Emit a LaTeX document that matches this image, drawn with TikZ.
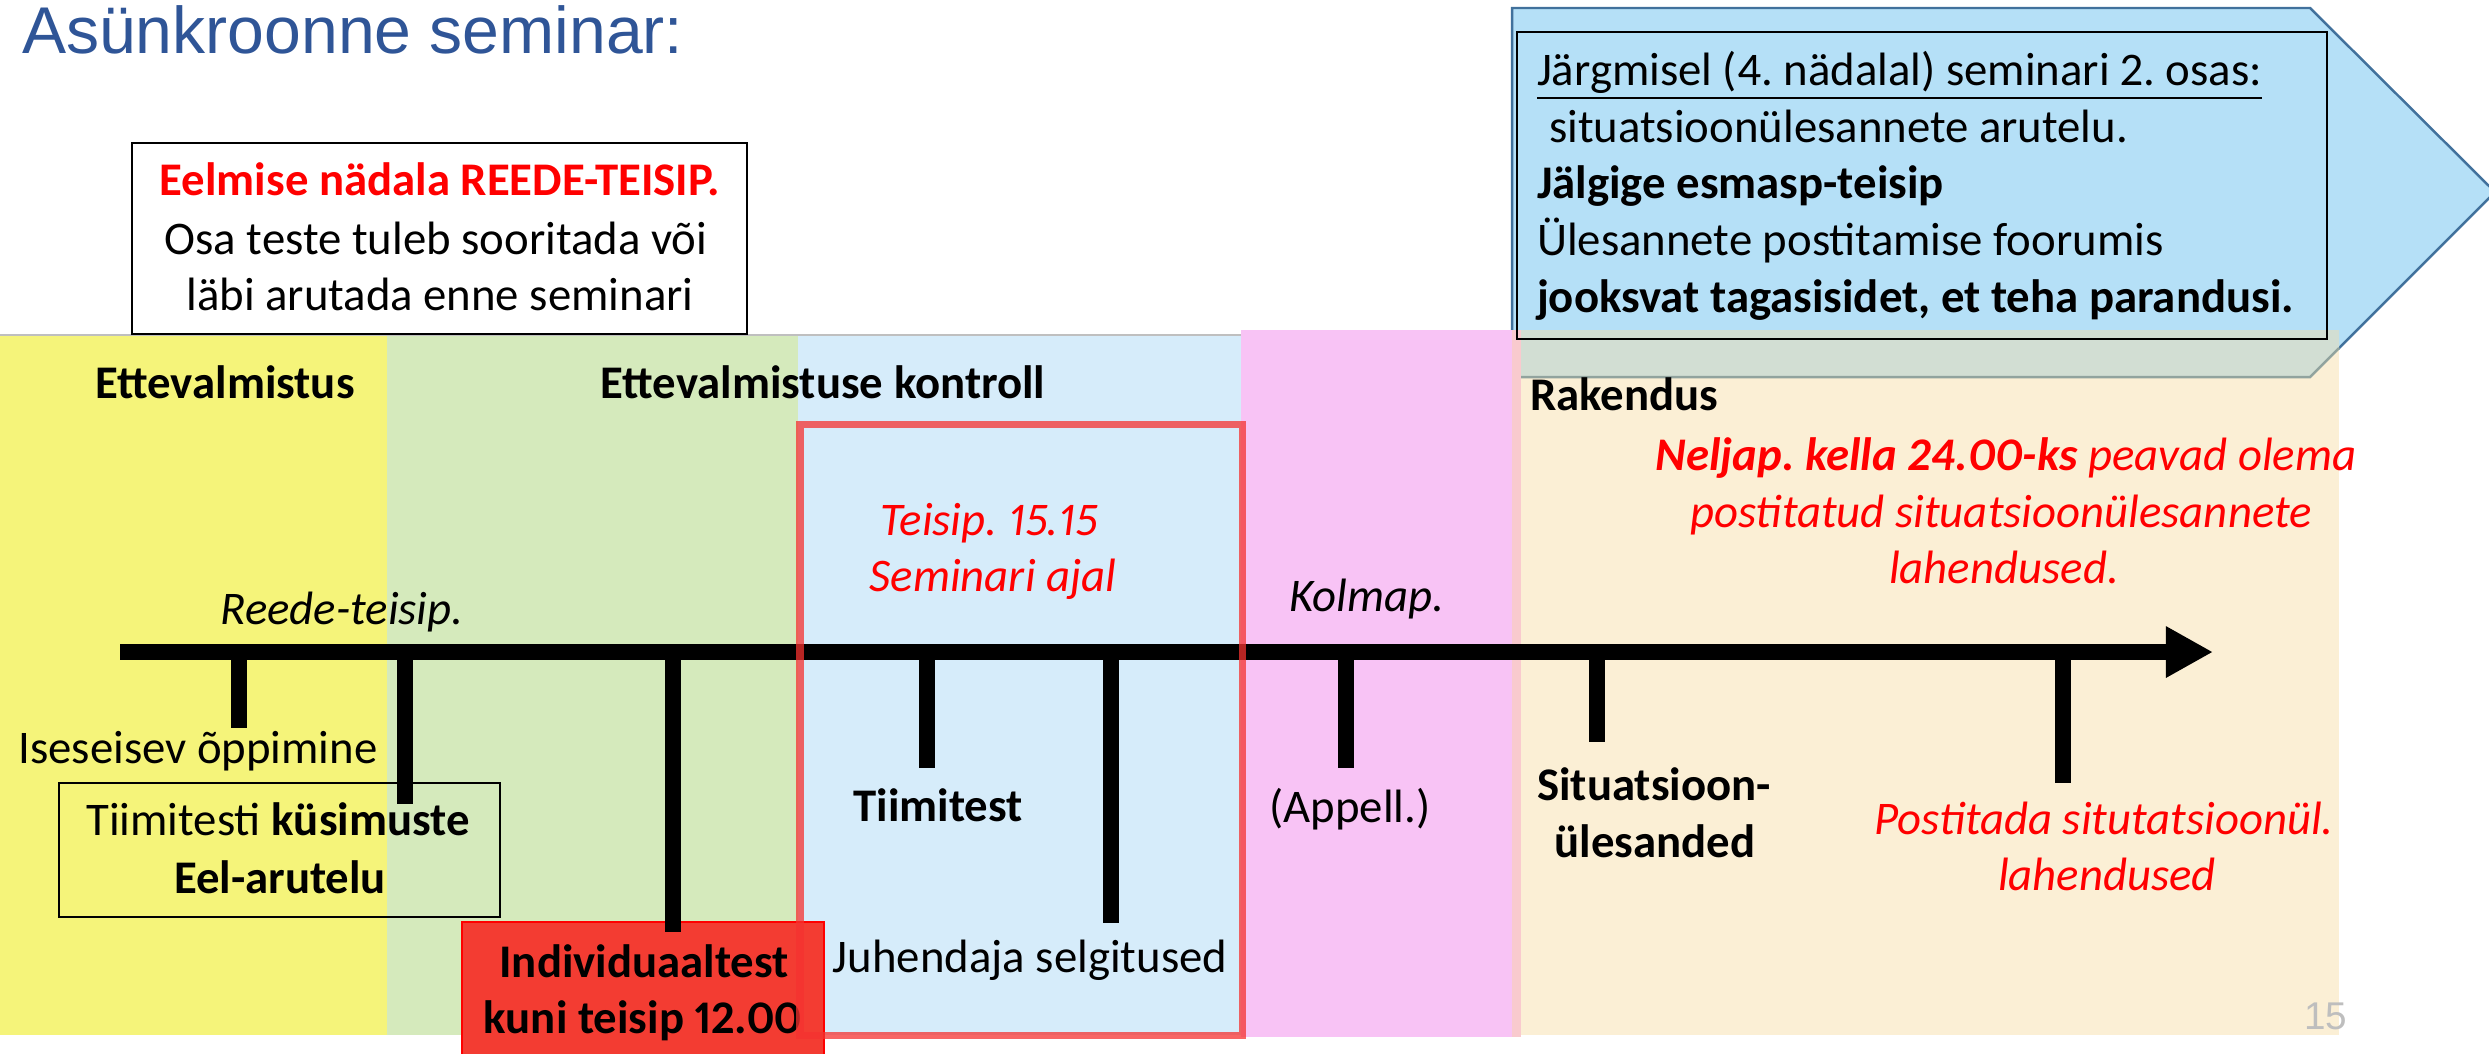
\documentclass[tikz,border=0pt]{standalone}
\usepackage{fontspec}
\setmainfont{Carlito}[Numbers=Proportional]
\newfontfamily\titlefont{Liberation Sans}
\usetikzlibrary{arrows.meta}
\definecolor{cyel}{RGB}{245,244,122}
\definecolor{cgreen}{RGB}{213,234,188}
\definecolor{cblue}{RGB}{214,236,250}
\definecolor{cpink}{RGB}{248,195,245}
\definecolor{cpinkstrip}{RGB}{249,202,206}
\definecolor{cbeige}{RGB}{251,239,213}
\definecolor{carrow}{RGB}{181,224,247}
\definecolor{carrowline}{RGB}{65,113,156}
\definecolor{coverlap}{RGB}{210,222,211}
\definecolor{coverline}{RGB}{145,163,158}
\definecolor{cframe}{RGB}{245,50,48}
\definecolor{cindiv}{RGB}{243,60,50}
\definecolor{ctitle}{RGB}{47,85,151}
\definecolor{cred}{RGB}{255,0,0}
\definecolor{cpage}{RGB}{190,190,190}
\frenchspacing
\tikzset{
  txt/.style={inner sep=0pt, outer sep=0pt, font=\fontsize{13.3pt}{16pt}\selectfont, anchor=base},
  txtl/.style={txt, anchor=base west},
  boldtxt/.style={font=\fontsize{13.3pt}{16pt}\selectfont\bfseries},
  boxline/.style={draw=black, line width=0.8pt},
  tickline/.style={line width=4.3pt},
  redit/.style={text=cred, font=\fontsize{13.3pt}{16pt}\selectfont\itshape},
}
\begin{document}
\begin{tikzpicture}[x=0.01cm,y=-0.01cm]
\useasboundingbox (0,0) rectangle (2489,1053);
% blue arrow
\path[fill=carrow, draw=carrowline, line width=0.7pt] (1512,8) -- (2310,8) -- (2495,192) -- (2310,377) -- (1512,377) -- cycle;
% bands
\fill[cyel] (0,335) rectangle (387,1035);
\fill[cgreen] (387,335) rectangle (798,1035);
\fill[cblue] (798,335) rectangle (1241,1035);
\draw[gray!50, line width=0.4pt] (0,335) -- (1241,335);
\fill[cpink] (1241,330) rectangle (1512,1037);
\fill[cpinkstrip] (1512,330) rectangle (1521,1037);
\fill[cbeige] (1521,330) rectangle (2339,1035);
% overlap of arrow and beige band
\fill[coverlap] (1521,330) -- (2339,330) -- (2339,348) -- (2310,377) -- (1521,377) -- cycle;
\draw[coverline, line width=0.7pt] (1521,377) -- (2310,377) -- (2339,348);
% title
\node[txtl, font=\titlefont\fontsize{18.8pt}{22pt}\selectfont, text=ctitle] (ttl) at (22,53) {Asünkroonne seminar:};
% top-left box
\draw[boxline, fill=white] (132,143) rectangle (747,334);
\node[txt, boldtxt, text=cred] (ee1) at (440,195) {Eelmise nädala REEDE-TEISIP.};
\node[txt] (ee2) at (436,254) {Osa teste tuleb sooritada või};
\node[txt] (ee3) at (440,310) {läbi arutada enne seminari};
% arrow box
\draw[boxline] (1517,32) rectangle (2327,339);
\node[txtl] (j1) at (1537,85) {\underline{Järgmisel (4. nädalal) seminari 2. osas:}};
\node[txtl] (j2) at (1549,142) {situatsioonülesannete arutelu.};
\node[txtl, boldtxt] (j3) at (1537,198) {Jälgige esmasp-teisip};
\node[txtl] (j4) at (1537,255) {Ülesannete postitamise foorumis};
\node[txtl, boldtxt] (j5) at (1537,312) {jooksvat tagasisidet, et teha parandusi.};
% band headers
\node[txt, boldtxt] (ettev) at (225,398) {Ettevalmistus};
\node[txt, boldtxt] (ettk) at (823,398) {Ettevalmistuse kontroll};
\node[txtl, boldtxt] (rak) at (1530,410) {Rakendus};
% red individual test box
\draw[fill=cindiv, draw=cred, line width=0.6pt] (462,922) rectangle (824,1060);
\node[txt, boldtxt] (ind1) at (644,977) {Individuaaltest};
\node[txt, boldtxt] (ind2) at (643,1033) {kuni teisip 12.00};
% tiimitesti box
\draw[boxline] (59,783) rectangle (500,917);
\node[txt] (tk1) at (278,835) {Tiimitesti \textbf{küsimuste}};
\node[txt, boldtxt] (tk2) at (280,893) {Eel-arutelu};
% timeline
\coordinate (tl0) at (120,652);
\coordinate (tl1) at (2213,652);
\draw[line width=4.6pt, -{Triangle[length=13.4pt,width=13.7pt]}] (tl0) -- (tl1);
\foreach \n/\x/\y in {1/239/728, 2/405/804, 3/673/932, 4/927/768, 5/1111/923, 6/1346/768, 7/1597/742, 8/2063/783}{
  \coordinate (ta\n) at (\x,652);
  \coordinate (tb\n) at (\x,\y);
  \draw[tickline] (ta\n) -- (tb\n);
}
% seminar frame
\draw[cframe, draw opacity=0.75, line width=2pt] (800,424) rectangle (1242,1035);
% labels
\node[txt, font=\fontsize{13.3pt}{16pt}\selectfont\itshape] (reede) at (342,624) {Reede-teisip.};
\node[txt] (isese) at (198,763) {Iseseisev õppimine};
\node[txt, redit] (teis1) at (989,535) {Teisip. 15.15};
\node[txt, redit] (teis2) at (993,591) {Seminari ajal};
\node[txt, font=\fontsize{13.3pt}{16pt}\selectfont\itshape] (kolm) at (1367,611) {Kolmap.};
\node[txt, boldtxt] (tiimt) at (938,821) {Tiimitest};
\node[txt] (appell) at (1350,822) {(Appell.)};
\node[txt] (juh) at (1030,972) {Juhendaja selgitused};
\node[txt, boldtxt] (sit1) at (1654,800) {Situatsioon-};
\node[txt, boldtxt] (sit2) at (1655,857) {ülesanded};
\node[txt, redit] (nel1) at (2006,470) {\textbf{Neljap. kella 24.00-ks} peavad olema};
\node[txt, redit] (nel2) at (2001,527) {postitatud situatsioonülesannete};
\node[txt, redit] (nel3) at (2004,583) {lahendused.};
\node[txt, redit] (post1) at (2104,834) {Postitada situtatsioonül.};
\node[txt, redit] (post2) at (2107,890) {lahendused};
\node[txtl, font=\titlefont\fontsize{11pt}{13pt}\selectfont, text=cpage] (pg) at (2304,1029) {15};
\end{tikzpicture}
\end{document}
